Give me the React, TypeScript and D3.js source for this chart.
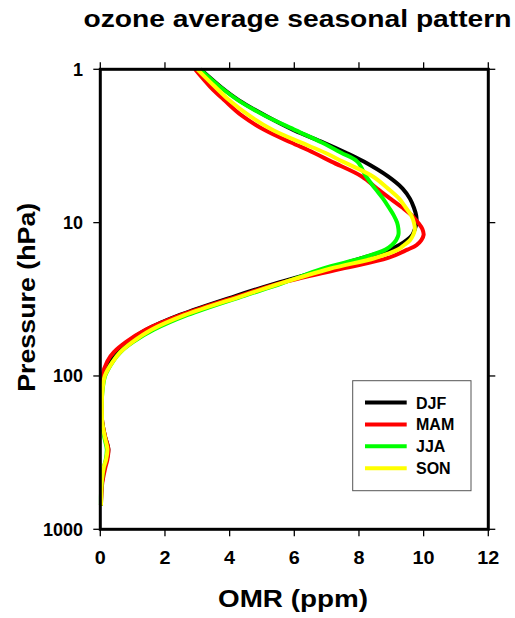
import React from 'react';
import * as d3 from 'd3';

const pressure = [1, 1.3, 1.6, 2, 2.5, 3, 3.5, 4, 5, 6, 7, 8, 9, 10, 11, 12, 13, 14, 15, 17, 20, 25, 30, 40, 50, 60, 70, 80, 100, 130, 170, 200, 250, 300, 350, 400, 500, 600, 700];
const djf = [3.1, 3.72, 4.3, 5.1, 6.0, 6.9, 7.6, 8.15, 8.9, 9.35, 9.58, 9.7, 9.77, 9.78, 9.73, 9.65, 9.48, 9.25, 8.95, 8.1, 7.0, 5.4, 4.2, 2.46, 1.42, 0.85, 0.48, 0.28, 0.08, 0.04, 0.04, 0.06, 0.15, 0.25, 0.2, 0.12, 0.05, 0.03, 0.02];
const mam = [2.93, 3.4, 3.85, 4.37, 5.1, 5.9, 6.6, 7.15, 8.09, 8.56, 8.98, 9.35, 9.64, 9.83, 9.96, 10.0, 9.93, 9.78, 9.5, 8.9, 7.45, 5.5, 4.3, 2.5, 1.4, 0.8, 0.42, 0.22, 0.06, 0.04, 0.04, 0.06, 0.15, 0.25, 0.22, 0.15, 0.06, 0.03, 0.02];
const jja = [3.08, 3.7, 4.28, 5.08, 6.05, 6.85, 7.45, 7.95, 8.22, 8.5, 8.75, 8.93, 9.08, 9.18, 9.22, 9.22, 9.15, 9.02, 8.82, 8.1, 6.85, 5.6, 4.45, 2.7, 1.65, 1.02, 0.62, 0.4, 0.15, 0.06, 0.03, 0.05, 0.12, 0.2, 0.17, 0.1, 0.04, 0.02, 0.02];
const son = [3.0, 3.55, 4.0, 4.6, 5.35, 6.2, 6.95, 7.5, 8.43, 8.9, 9.25, 9.45, 9.62, 9.7, 9.73, 9.68, 9.58, 9.4, 9.2, 8.5, 7.1, 5.55, 4.4, 2.62, 1.58, 1.0, 0.62, 0.4, 0.14, 0.06, 0.05, 0.06, 0.14, 0.22, 0.18, 0.1, 0.04, 0.03, 0.02];

const seasonNames = ['DJF', 'MAM', 'JJA', 'SON'];
const seasonColors = ['#000000', '#ff0000', '#00ff00', '#ffff00'];
const seasonValues = [djf, mam, jja, son];

const xTicks = [0, 2, 4, 6, 8, 10, 12];
const yTicks = [1, 10, 100, 1000];

const titleText = 'ozone average seasonal pattern';
const xTitle = 'OMR (ppm)';
const yTitle = 'Pressure (hPa)';

const W = 515;
const H = 618;
const left = 100.3;
const right = 488.3;
const top = 69.3;
const bottom = 529.3;
const FONT = '"Liberation Sans", Arial, Helvetica, sans-serif';

export default function App() {
  const x = d3.scaleLinear().domain([0, 12]).range([left, right]);
  const y = d3.scaleLog().domain([1, 1000]).range([top, bottom]);
  const line = d3
    .line<[number, number]>()
    .x((d) => x(d[0]))
    .y((d) => y(d[1]))
    .curve(d3.curveCatmullRom.alpha(0.5));

  const legX = 352.7;
  const legY = 380.7;
  const legW = 118.3;
  const legH = 110;

  return (
    <svg
      width={W}
      height={H}
      style={{ position: 'absolute', left: 0, top: 0, background: '#fff' }}
      fontFamily={FONT}
    >
      <rect x={0} y={0} width={W} height={H} fill="#fff" />
      <text
        x={297.5}
        y={26.7}
        textAnchor="middle"
        fontSize={23}
        fontWeight="bold"
        textLength={428}
        lengthAdjust="spacingAndGlyphs"
      >
        {titleText}
      </text>

      {/* curves */}
      <g fill="none" strokeWidth={4} strokeLinejoin="round" strokeLinecap="butt">
        {seasonValues.map((vals, i) => (
          <path
            key={seasonNames[i]}
            d={line(vals.map((v, k) => [v, pressure[k]] as [number, number])) || ''}
            stroke={seasonColors[i]}
          />
        ))}
      </g>

      {/* ticks */}
      <g stroke="#000" strokeWidth={1.3}>
        {xTicks.map((t) => (
          <g key={'xt' + t}>
            <line x1={x(t)} x2={x(t)} y1={bottom} y2={bottom + 7} />
            <line x1={x(t)} x2={x(t)} y1={top} y2={top - 7} />
          </g>
        ))}
        {yTicks.map((t) => (
          <g key={'yt' + t}>
            <line x1={left} x2={left - 7} y1={y(t)} y2={y(t)} />
            <line x1={right} x2={right + 7} y1={y(t)} y2={y(t)} />
          </g>
        ))}
      </g>

      {/* frame */}
      <rect
        x={left}
        y={top}
        width={right - left}
        height={bottom - top}
        fill="none"
        stroke="#000"
        strokeWidth={3}
      />

      {/* tick labels */}
      <g fontSize={18} fontWeight="bold">
        {xTicks.map((t) => (
          <text
            key={'xl' + t}
            x={x(t)}
            y={564}
            textAnchor="middle"
            textLength={String(t).length * 11}
            lengthAdjust="spacingAndGlyphs"
          >
            {String(t)}
          </text>
        ))}
        {yTicks.map((t) => (
          <text
            key={'yl' + t}
            x={83}
            y={y(t) + 6.5}
            textAnchor="end"
            textLength={String(t).length * 10}
            lengthAdjust="spacingAndGlyphs"
          >
            {String(t)}
          </text>
        ))}
      </g>

      {/* axis titles */}
      <text
        x={293}
        y={607.3}
        textAnchor="middle"
        fontSize={23}
        fontWeight="bold"
        textLength={150}
        lengthAdjust="spacingAndGlyphs"
      >
        {xTitle}
      </text>
      <text
        transform={`translate(34.5, ${(top + bottom) / 2 - 2}) rotate(-90)`}
        textAnchor="middle"
        fontSize={23}
        fontWeight="bold"
        textLength={189}
        lengthAdjust="spacingAndGlyphs"
      >
        {yTitle}
      </text>

      {/* legend */}
      <rect x={legX} y={legY} width={legW} height={legH} fill="#fff" stroke="#555" strokeWidth={1} />
      {seasonNames.map((name, i) => {
        const cy = 402.5 + i * 21.9;
        return (
          <g key={'lg' + name}>
            <line x1={365} x2={406.7} y1={cy} y2={cy} stroke={seasonColors[i]} strokeWidth={4} />
            <text x={416} y={cy + 6} fontSize={16} fontWeight="bold">
              {name}
            </text>
          </g>
        );
      })}
    </svg>
  );
}
